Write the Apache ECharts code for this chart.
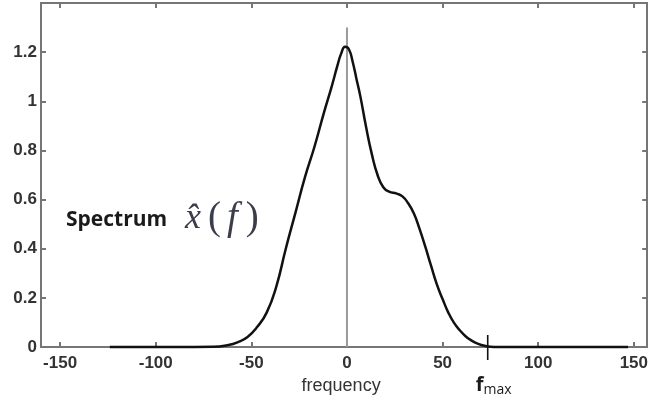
<!DOCTYPE html>
<html>
<head>
<meta charset="utf-8">
<script src="https://cdn.jsdelivr.net/npm/echarts@6/dist/echarts.min.js"></script>
<style>
  html, body { margin: 0; padding: 0; background: #fff; }
  #chart { width: 651px; height: 401px; }
</style>
</head>
<body>
<div id="chart"></div>
<script>
// Frequency samples (Hz) and spectrum magnitude |x̂(f)|
const frequency = [-124, -90, -70, -62, -57, -52, -47, -42, -37, -32, -27, -22, -17, -12, -8, -5, -3, -1,
                   1, 3, 5, 7, 10, 13, 16, 19, 22, 26, 29, 32, 35, 38, 41, 44, 47, 50, 53, 56, 59, 62, 65, 68, 72, 77, 147];
const spectrum  = [0, 0, 0.001, 0.008, 0.02, 0.041, 0.081, 0.14, 0.245, 0.40, 0.545, 0.69, 0.815, 0.955, 1.06, 1.145, 1.195, 1.222,
                   1.212, 1.16, 1.09, 1.02, 0.895, 0.785, 0.70, 0.65, 0.632, 0.624, 0.613, 0.585, 0.543, 0.48, 0.407, 0.33, 0.255, 0.195, 0.14, 0.098, 0.068, 0.044, 0.027, 0.015, 0.005, 0, 0];

// Axis ticks
const xTicks = [-150, -100, -50, 0, 50, 100, 150];
const yTicks = [0, 0.2, 0.4, 0.6, 0.8, 1, 1.2];

// Reference lines
const zeroLine = [[0, 0], [0, 1.3]];
const fMax = 73.6;

const frameColor = '#767676';
const labelFont = { fontFamily: 'Liberation Sans', fontWeight: 'bold', fontSize: 17, color: '#333' };

function frameAxis(pos, isX, showLabels) {
  const ticks = isX ? xTicks : yTicks;
  return {
    type: 'value',
    position: pos,
    min: isX ? -160 : 0,
    max: isX ? 157 : 1.4,
    axisLine: { show: true, onZero: false, lineStyle: { color: frameColor, width: 2 } },
    axisTick: { show: true, inside: true, length: 5, customValues: ticks, lineStyle: { color: frameColor, width: 2 } },
    axisLabel: Object.assign({
      show: showLabels,
      customValues: ticks,
      margin: isX ? 8 : 4,
      formatter: v => String(Math.round(v * 10) / 10)
    }, labelFont),
    splitLine: { show: false }
  };
}

const chart = echarts.init(document.getElementById('chart'), null, { renderer: 'canvas' });

chart.setOption({
  animation: false,
  backgroundColor: '#fff',
  grid: { left: 41, top: 3, right: 1, bottom: 54, containLabel: false },
  xAxis: [
    Object.assign(frameAxis('bottom', true, true), {
      name: 'frequency',
      nameLocation: 'middle',
      nameGap: 29,
      nameTextStyle: { fontFamily: 'Liberation Sans', fontSize: 18, color: '#333', padding: [0, 6, 0, 0] }
    }),
    frameAxis('top', true, false)
  ],
  yAxis: [
    frameAxis('left', false, true),
    frameAxis('right', false, false)
  ],
  graphic: [
    {
      type: 'text', left: 66, top: 210,
      style: { text: 'Spectrum', fontFamily: 'Open Sans', fontWeight: 'bold', fontSize: 21, fill: '#1a1a1a' }
    },
    {
      type: 'text', left: 185, top: 199,
      style: {
        text: '{x|x̂}{p|(}{f|f}{p|)}',
        rich: {
          x: { fontFamily: 'Liberation Serif', fontStyle: 'italic', fontSize: 36, fill: '#3b3d4a', padding: [0, 7, 0, 0] },
          p: { fontFamily: 'Liberation Serif', fontSize: 39, fill: '#3b3d4a' },
          f: { fontFamily: 'Liberation Serif', fontStyle: 'italic', fontSize: 39, fill: '#3b3d4a', padding: [0, 8, 0, 6] }
        }
      }
    }
  ],
  series: [
    {
      type: 'line',
      data: zeroLine,
      symbol: 'none',
      lineStyle: { color: '#9a9a9a', width: 2 },
      z: 1,
      silent: true
    },
    {
      type: 'line',
      data: frequency.map((f, i) => [f, spectrum[i]]),
      symbol: 'none',
      smooth: 0.5,
      clip: false,
      lineStyle: { color: '#111', width: 2.5 },
      z: 3
    },
    {
      // f_max marker: a short vertical tick across the frequency axis and its label
      type: 'custom',
      data: [[fMax, 0]],
      clip: false,
      z: 4,
      renderItem: function (params, api) {
        const p = api.coord([api.value(0), api.value(1)]);
        return {
          type: 'group',
          children: [
            {
              type: 'line',
              shape: { x1: p[0], y1: p[1] - 12, x2: p[0], y2: p[1] + 13 },
              style: { stroke: '#111', lineWidth: 1.6 }
            },
            {
              type: 'text',
              x: p[0] - 12, y: p[1] + 26,
              style: {
                text: '{f|f}{s|max}',
                rich: {
                  f: { fontFamily: 'Open Sans', fontWeight: 'bold', fontSize: 20, fill: '#1a1a1a' },
                  s: { fontFamily: 'Open Sans', fontSize: 14, fill: '#1a1a1a', padding: [10, 0, 0, 0] }
                }
              }
            }
          ]
        };
      }
    }
  ]
});
</script>
</body>
</html>
